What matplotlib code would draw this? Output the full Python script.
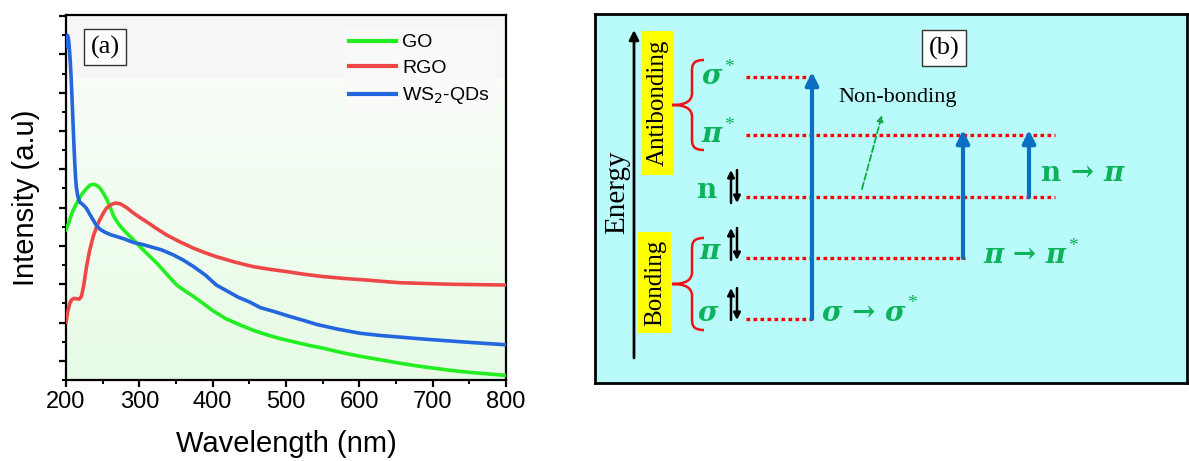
import numpy as np
import matplotlib.pyplot as plt
from matplotlib.path import Path
from matplotlib.patches import PathPatch, Rectangle
from matplotlib.ticker import MultipleLocator

# absorbance spectra (arbitrary units)
go_nm = [200, 204, 208, 212, 217, 222, 228, 233, 238, 242, 246, 251, 256, 260, 265, 270, 276, 283,
         290, 301, 312, 324, 337, 351, 362, 374, 387, 401, 418, 437, 455, 474, 492, 510, 530, 551,
         575, 601, 628, 655, 678, 701, 725, 750, 775, 800]
go_int = [3.42, 3.62, 3.85, 4.02, 4.20, 4.36, 4.50, 4.59, 4.61, 4.58, 4.52, 4.38, 4.20, 4.02, 3.78,
          3.62, 3.47, 3.33, 3.20, 2.98, 2.77, 2.55, 2.27, 1.98, 1.83, 1.68, 1.50, 1.30, 1.10, 0.94,
          0.80, 0.68, 0.58, 0.50, 0.41, 0.33, 0.22, 0.12, 0.03, -0.06, -0.13, -0.19, -0.25, -0.30,
          -0.34, -0.38]

rgo_nm = [200, 202, 205, 208, 211, 215, 218, 221, 224, 228, 232, 237, 242, 246, 251, 255, 260, 264,
          268, 274, 282, 292, 301, 310, 323, 337, 355, 374, 390, 405, 430, 455, 478, 501, 525, 551,
          580, 610, 635, 655, 690, 724, 760, 800]
rgo_int = [1.00, 1.25, 1.50, 1.60, 1.63, 1.62, 1.61, 1.68, 1.95, 2.46, 2.86, 3.24, 3.52, 3.68, 3.86,
           3.98, 4.06, 4.10, 4.12, 4.10, 4.01, 3.86, 3.74, 3.63, 3.46, 3.29, 3.11, 2.94, 2.82, 2.72,
           2.58, 2.46, 2.39, 2.33, 2.26, 2.20, 2.15, 2.11, 2.07, 2.04, 2.02, 2.00, 1.99, 1.98]

ws2_nm = [200, 201, 202, 203, 204, 205, 206, 207, 208, 209, 210, 211, 212, 213, 214, 216, 219, 223,
          228, 232, 237, 241, 246, 253, 260, 270, 280, 292, 304, 315, 330, 346, 360, 374, 390, 405,
          420, 435, 450, 465, 485, 505, 525, 542, 570, 601, 630, 655, 680, 701, 730, 760, 800]
ws2_int = [8.20, 8.45, 8.50, 8.45, 8.30, 8.05, 7.75, 7.40, 6.95, 6.50, 6.00, 5.55, 5.15, 4.80, 4.55,
           4.30, 4.14, 4.08, 3.98, 3.84, 3.68, 3.55, 3.44, 3.36, 3.30, 3.24, 3.18, 3.09, 3.04, 2.98,
           2.90, 2.77, 2.63, 2.46, 2.24, 1.98, 1.82, 1.66, 1.54, 1.39, 1.28, 1.16, 1.05, 0.95, 0.83,
           0.72, 0.66, 0.62, 0.58, 0.55, 0.51, 0.47, 0.42]

series = [("GO", go_nm, go_int, "#22ee22"),
          ("RGO", rgo_nm, rgo_int, "#ef4747"),
          ("WS$_2$-QDs", ws2_nm, ws2_int, "#2366dd")]

# energy-level diagram
levels = {"sigma*": 77, "pi*": 135, "n": 197, "pi": 258, "sigma": 319}
level_x = {"sigma*": 812, "pi*": 1055, "n": 1055, "pi": 965, "sigma": 812}
transitions = [("sigma", "sigma*", 812), ("pi", "pi*", 963), ("n", "pi*", 1029)]

W, H = 1189, 461
fig = plt.figure(figsize=(W / 100, H / 100), dpi=100)
plt.rcParams["font.family"] = ["Liberation Sans", "DejaVu Sans"]
serif = ["Liberation Serif", "DejaVu Serif"]
greek = ["DejaVu Serif"]
green = "#0db25a"

# ---- (a) spectra ----
ax = fig.add_axes([66 / W, 1 - 380 / H, 440 / W, 365 / H])
grad = np.ones((300, 2, 3))
top = np.array([0.965, 0.965, 0.965])
light = np.array([0.975, 0.995, 0.970])
low = np.array([0.905, 0.985, 0.900])
cut = 63 / 365
for i in range(300):
    f = i / 299
    if f < cut:
        grad[i, :] = top
    else:
        k = (f - cut) / (1 - cut)
        grad[i, :] = light * (1 - k) + low * k
ax.imshow(grad, extent=[200, 800, -0.5, 9.03], origin="upper", aspect="auto", zorder=0)

for name, x, y, c in series:
    ax.plot(x, y, color=c, lw=2.6, label=name, zorder=3)

ax.set_xlim(200, 800)
ax.set_ylim(-0.5, 9.03)
ax.xaxis.set_major_locator(MultipleLocator(100))
ax.xaxis.set_minor_locator(MultipleLocator(50))
ax.yaxis.set_major_locator(MultipleLocator(1))
ax.yaxis.set_minor_locator(MultipleLocator(0.5))
ax.tick_params(which="major", direction="out", length=5, width=1.6, labelsize=17, pad=3)
ax.tick_params(which="minor", direction="out", length=3, width=1.4)
ax.tick_params(axis="y", labelleft=False)
for s in ax.spines.values():
    s.set_linewidth(1.6)
ax.set_xlabel("Wavelength (nm)", fontsize=21, labelpad=12)
ax.set_ylabel("Intensity (a.u)", fontsize=21, labelpad=12)

leg = ax.legend(loc="upper right", bbox_to_anchor=(0.985, 0.975), fontsize=14, frameon=True,
                fancybox=False, handlelength=2.4, handletextpad=0.3, labelspacing=0.42,
                borderpad=0.3, borderaxespad=0.2)
leg.get_frame().set_facecolor("#fafafa")
leg.get_frame().set_edgecolor("none")
for ln in leg.get_lines():
    ln.set_linewidth(3)

ax.text(0.089, 0.912, "(a)", transform=ax.transAxes, fontsize=19, family=serif,
        ha="center", va="center", zorder=5,
        bbox=dict(boxstyle="square,pad=0.25", fc="white", ec="#333333", lw=1))

# ---- (b) energy diagram ----
bx = fig.add_axes([595 / W, 1 - 383 / H, 592 / W, 369 / H])
bx.set_xlim(595, 1187)
bx.set_ylim(383, 14)
bx.set_xticks([])
bx.set_yticks([])
bx.set_facecolor("#b9fbfb")
for s in bx.spines.values():
    s.set_linewidth(2)

# energy axis
bx.annotate("", xy=(634, 30), xytext=(634, 358),
            arrowprops=dict(arrowstyle="-|>", lw=2, color="black", mutation_scale=14,
                            shrinkA=0, shrinkB=0))
bx.text(617, 192, "Energy", rotation=90, fontsize=21, family=serif, ha="center", va="center")

bx.add_patch(Rectangle((642, 31), 31, 144, fc="#ffff00", ec="none"))
bx.text(658, 103, "Antibonding", rotation=90, fontsize=18, family=serif, ha="center", va="center")
bx.add_patch(Rectangle((638, 232), 33, 101, fc="#ffff00", ec="none"))
bx.text(655, 283, "Bonding", rotation=90, fontsize=18, family=serif, ha="center", va="center")


def brace(y0, y1, xt=672, xb=692, xe=704):
    ym = (y0 + y1) / 2
    verts = [(xe, y0), (xb, y0), (xb, y0 + 6), (xb, y0 + 12),
             (xb, ym - 12),
             (xb, ym - 4), (xb - 6, ym), (xt, ym),
             (xb - 6, ym), (xb, ym + 4), (xb, ym + 12),
             (xb, y1 - 12),
             (xb, y1 - 6), (xb, y1), (xe, y1)]
    codes = [Path.MOVETO, Path.CURVE4, Path.CURVE4, Path.CURVE4,
             Path.LINETO,
             Path.CURVE4, Path.CURVE4, Path.CURVE4,
             Path.CURVE4, Path.CURVE4, Path.CURVE4,
             Path.LINETO,
             Path.CURVE4, Path.CURVE4, Path.CURVE4]
    bx.add_patch(PathPatch(Path(verts, codes), fc="none", ec="#ee1111", lw=1.8))


brace(60, 150)
brace(238, 330)

renderer = fig.canvas.get_renderer()


def after(txt, s, dy=0, gap=1, **kw):
    # place another piece of text right after an existing one
    bb = txt.get_window_extent(renderer)
    x, _ = bx.transData.inverted().transform((bb.x1, bb.y1))
    y = txt.get_position()[1] + dy
    return bx.text(x + gap, y, s, ha="left", va="center", **kw)


def star_after(txt, dy=-10):
    after(txt, "*", dy=dy, gap=2, fontsize=14, color=green, family=serif)


gk = dict(color=green, family=greek, fontweight="bold", ha="center", va="center",
          fontsize=20, style="italic")
star_after(bx.text(712, 77, "σ", **gk))
star_after(bx.text(712, 134, "π", **gk), dy=-9)
bx.text(707, 190, "n", color=green, family=greek, fontweight="bold", ha="center",
        va="center", fontsize=20)
bx.text(710, 251, "π", **gk)
bx.text(708, 313, "σ", **gk)

# electron pairs
for lv, (ya, yb) in {"n": (170, 203), "pi": (228, 260), "sigma": (288, 320)}.items():
    bx.annotate("", xy=(731, ya), xytext=(731, yb),
                arrowprops=dict(arrowstyle="-|>", lw=1.8, color="black", mutation_scale=10,
                                shrinkA=0, shrinkB=0))
    bx.annotate("", xy=(737, yb), xytext=(737, ya),
                arrowprops=dict(arrowstyle="-|>", lw=1.8, color="black", mutation_scale=10,
                                shrinkA=0, shrinkB=0))

# orbital levels
for lv, y in levels.items():
    bx.plot([746, level_x[lv]], [y, y], color="#ff0000", lw=2.4, ls=(0, (1.1, 1.0)),
            solid_capstyle="butt", zorder=2)

# transitions
for lo, hi, x in transitions:
    bx.annotate("", xy=(x, levels[hi] - 5), xytext=(x, levels[lo]),
                arrowprops=dict(arrowstyle="-|>", lw=3, color="#0a6fc2", mutation_scale=19,
                                shrinkA=0, shrinkB=0), zorder=3)

tk = dict(fontsize=20, color=green, family=greek, fontweight="bold", ha="left", va="center")
star_after(bx.text(822, 313, "σ → σ", style="italic", **tk))
star_after(bx.text(983, 255, "π → π", style="italic", **tk), dy=-9)
n_txt = bx.text(1041, 173, "n → ", **tk)
after(n_txt, "π", gap=0, style="italic", fontsize=20, color=green, family=greek,
      fontweight="bold")

bx.text(898, 97, "Non-bonding", fontsize=16, family=serif, ha="center", va="center")
bx.annotate("", xy=(882, 115), xytext=(862, 189),
            arrowprops=dict(arrowstyle="-|>", lw=1.3, ls="--", color="#11aa44",
                            mutation_scale=9, shrinkA=0, shrinkB=0))

bx.text(944, 48, "(b)", fontsize=19, family=serif, ha="center", va="center",
        bbox=dict(boxstyle="square,pad=0.25", fc="white", ec="#333333", lw=1))

fig.savefig("out.png", dpi=100)
